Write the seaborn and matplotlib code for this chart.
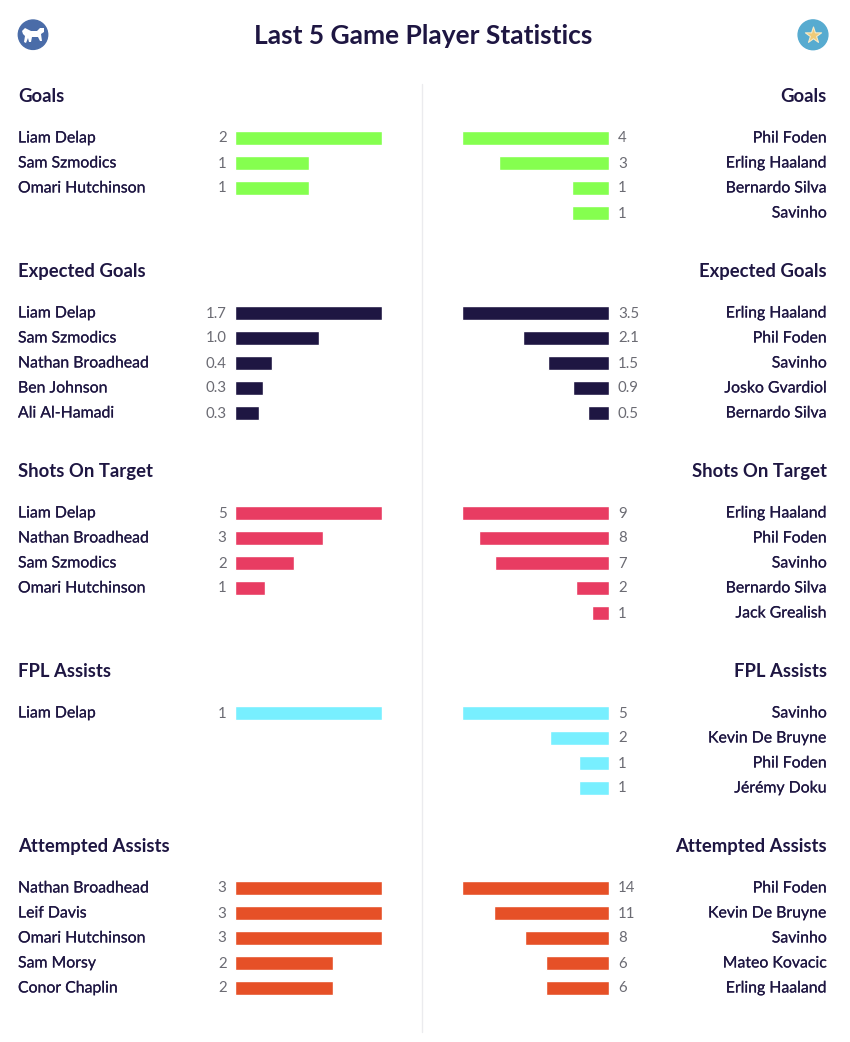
import matplotlib
matplotlib.use('Agg')
import matplotlib.pyplot as plt
import matplotlib.patheffects as pe
from matplotlib.patches import Circle, Polygon
import pandas as pd
import seaborn as sns

# stat blocks, top to bottom
stats = ['Goals', 'Expected Goals', 'Shots On Target', 'FPL Assists', 'Attempted Assists']
colors = ['#85FF4F', '#1E1642', '#E83C62', '#78EFFF', '#E65027']

left_names = [
    ['Liam Delap', 'Sam Szmodics', 'Omari Hutchinson'],
    ['Liam Delap', 'Sam Szmodics', 'Nathan Broadhead', 'Ben Johnson', 'Ali Al-Hamadi'],
    ['Liam Delap', 'Nathan Broadhead', 'Sam Szmodics', 'Omari Hutchinson'],
    ['Liam Delap'],
    ['Nathan Broadhead', 'Leif Davis', 'Omari Hutchinson', 'Sam Morsy', 'Conor Chaplin'],
]
left_values = [
    [2, 1, 1],
    [1.70, 0.97, 0.43, 0.32, 0.27],
    [5, 3, 2, 1],
    [1],
    [3, 3, 3, 2, 2],
]
right_names = [
    ['Phil Foden', 'Erling Haaland', 'Bernardo Silva', 'Savinho'],
    ['Erling Haaland', 'Phil Foden', 'Savinho', 'Josko Gvardiol', 'Bernardo Silva'],
    ['Erling Haaland', 'Phil Foden', 'Savinho', 'Bernardo Silva', 'Jack Grealish'],
    ['Savinho', 'Kevin De Bruyne', 'Phil Foden', 'Jérémy Doku'],
    ['Phil Foden', 'Kevin De Bruyne', 'Savinho', 'Mateo Kovacic', 'Erling Haaland'],
]
right_values = [
    [4, 3, 1, 1],
    [3.50, 2.06, 1.46, 0.86, 0.50],
    [9, 8, 7, 2, 1],
    [5, 2, 1, 1],
    [14, 11, 8, 6, 6],
]
header_y = [96, 271, 471, 671, 846]

W, H = 850, 1042
NAVY = '#1E1642'
GREY = '#6B6B73'
NAME_SIZE = 11.4
# Lato has no medium cut here, a hairline stroke gets the names closer
thicker = [pe.withStroke(linewidth=0.12, foreground=NAVY)]

sns.set_theme(style='white')
plt.rcParams['font.family'] = ['Lato', 'DejaVu Sans']

fig = plt.figure(figsize=(W / 100, H / 100), dpi=100, facecolor='white')

# full size layer in pixel coords for the text and badges
bg = fig.add_axes([0, 0, 1, 1])
bg.set_xlim(0, W)
bg.set_ylim(H, 0)
bg.axis('off')


def panel(x0, y0, names, values, color, stat, side):
    # 5 rows at 25px, the bars are scaled to the longest one
    ax = fig.add_axes([x0 / W, 1 - (y0 + 125) / H, 146 / W, 125 / H])
    df = pd.DataFrame({'name': names, 'value': values})
    df['row'] = range(len(df))
    sns.barplot(data=df, x='value', y='row', orient='h', order=range(5), color=color,
                width=0.58, saturation=1, ax=ax)
    ax.set_xlim(0, max(values))
    if side == 'right':
        ax.invert_xaxis()
    ax.axis('off')
    fmt = '%.1f' if stat == 'Expected Goals' else '%d'
    for i, (n, v) in enumerate(zip(names, values)):
        yc = y0 + 13 + 25 * i
        txt = fmt % v
        if side == 'left':
            bg.text(18, yc, n, ha='left', va='center', fontsize=NAME_SIZE, color=NAVY, path_effects=thicker)
            bg.text(226.5, yc, txt, ha='right', va='center', fontsize=10.8, color=GREY)
        else:
            bg.text(827, yc, n, ha='right', va='center', fontsize=NAME_SIZE, color=NAVY, path_effects=thicker)
            bg.text(618, yc, txt, ha='left', va='center', fontsize=10.8, color=GREY)


for i, stat in enumerate(stats):
    y0 = header_y[i] + 42 - 12.5
    bg.text(18, header_y[i] + 0.5, stat, ha='left', va='center', fontsize=13.3, fontweight='bold', color=NAVY)
    bg.text(827, header_y[i] + 0.5, stat, ha='right', va='center', fontsize=13.3, fontweight='bold', color=NAVY)
    panel(235.5, y0, left_names[i], left_values[i], colors[i], stat, 'left')
    panel(462.5, y0, right_names[i], right_values[i], colors[i], stat, 'right')

bg.text(423, 36, 'Last 5 Game Player Statistics', ha='center', va='center',
        fontsize=19, fontweight='bold', color=NAVY)
bg.plot([422.5, 422.5], [84, 1032], color='#EBEBEE', lw=1)

# badges
bg.add_patch(Circle((33, 34.7), 14.7, color='#4A6CA8'))
bg.add_patch(Polygon([(22, 31), (25, 28), (31, 31), (37, 31), (40, 28), (44, 28), (44, 32), (41, 34),
                      (42, 41), (40, 41), (38, 37), (32, 37), (31, 42), (29, 42), (28, 38), (26, 43),
                      (24, 42), (25, 36), (23, 34)],
                     closed=True, color='white', lw=0))
bg.add_patch(Circle((813, 34.8), 14.9, color='#57ABD0'))
bg.scatter([813], [35], marker='*', s=150, color='#EFCB78', edgecolors='#F6EBCB', linewidths=0.8, zorder=3)

fig.savefig('out.png', dpi=100)
